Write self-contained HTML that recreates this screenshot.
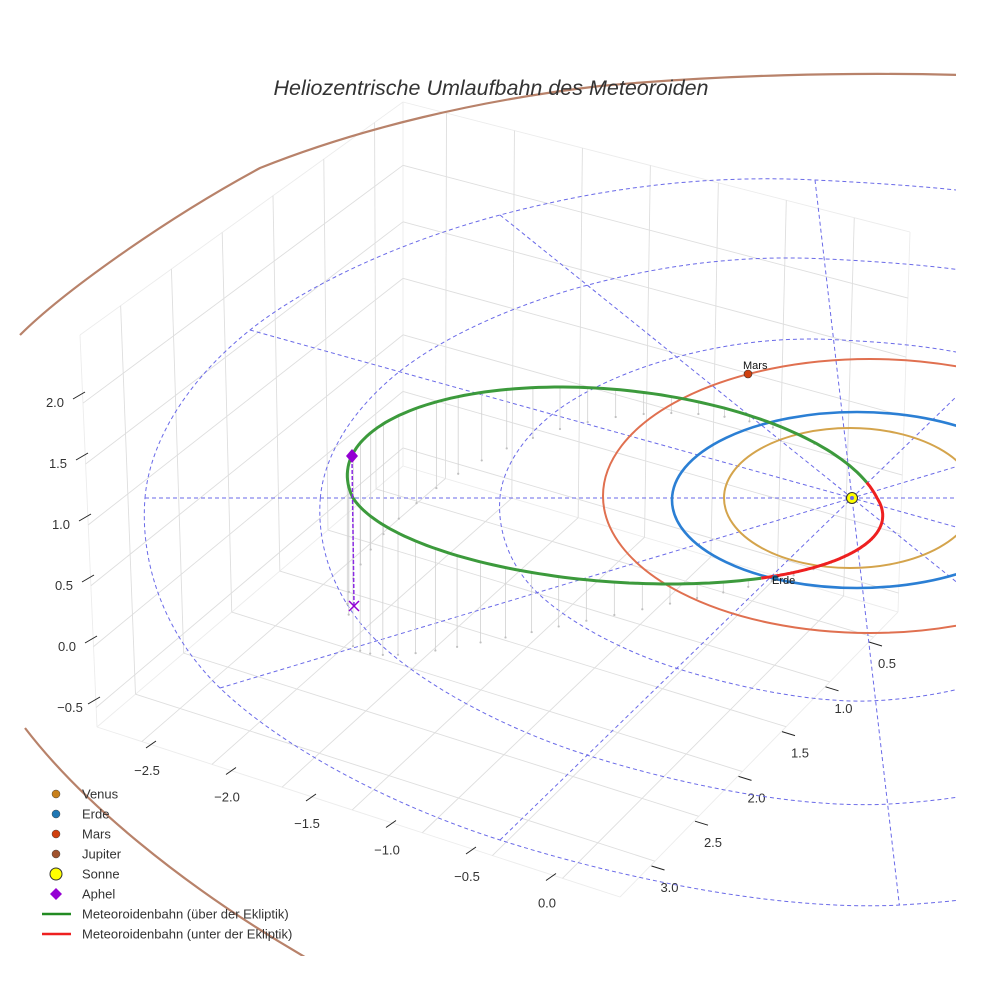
<!DOCTYPE html>
<html><head><meta charset="utf-8"><style>
html,body{margin:0;padding:0;background:#fff;}
svg{display:block;font-family:"Liberation Sans",sans-serif;}
</style></head><body>
<svg id="chart" width="984" height="984" viewBox="0 0 984 984" xmlns="http://www.w3.org/2000/svg">
<defs><clipPath id="clip"><rect x="0" y="0" width="956" height="956"/></clipPath></defs>
<rect width="984" height="984" fill="#fff"/>
<g id="grid"></g>
<g id="plot" clip-path="url(#clip)"></g>
<text x="491" y="95" text-anchor="middle" font-size="21.5" font-style="italic" fill="#333">Heliozentrische Umlaufbahn des Meteoroiden</text>
<g id="legend"></g>
</svg>
<script>
// ---- data ----
const xTicks = [-2.5, -2.0, -1.5, -1.0, -0.5, 0.0];
const yTicks = [0.5, 1.0, 1.5, 2.0, 2.5, 3.0];
const zTicks = [-0.5, 0.0, 0.5, 1.0, 1.5, 2.0];
const xRange = [-2.82, 0.91];
const yRange = [0.22, 3.4];
const zRange = [-0.66, 2.56];
const planetNames = ["Venus", "Erde", "Mars", "Jupiter"];
const planetColors = ["#d4a44c", "#2b7fd4", "#e07050", "#b8826a"];
const markerColors = ["#c8801c", "#1f77b4", "#d0400e", "#a0522d"];
const ringScales = [0.498, 0.752, 1.0];

const NS = "http://www.w3.org/2000/svg";
function mk(tag, attrs, parent){const e=document.createElementNS(NS,tag);for(const k in attrs)e.setAttribute(k,attrs[k]);parent.appendChild(e);return e;}
function lerp(p,q,t){return [p[0]+(q[0]-p[0])*t,p[1]+(q[1]-p[1])*t];}
const grid=document.getElementById('grid'), plot=document.getElementById('plot'), legend=document.getElementById('legend');

const A=[97,727],B=[620,897],F=[898,612],G=[403,466],A2=[80,335],G2=[403,102],F2=[910,232];
const tx=x=>(x-xRange[0])/(xRange[1]-xRange[0]);
const sy=y=>(yRange[1]-y)/(yRange[1]-yRange[0]);
const uz=z=>(z-zRange[0])/(zRange[1]-zRange[0]);
function gl(p,q,c,w){const l=mk('line',{x1:p[0],y1:p[1],x2:q[0],y2:q[1],stroke:c||'#dedede','stroke-width':w||0.9},grid);

}
[[A,B],[B,F],[F,G],[G,A],[A,A2],[G,G2],[F,F2],[A2,G2],[G2,F2]].forEach(e=>gl(e[0],e[1],'#ececec'));
xTicks.concat([0.5]).forEach(x=>{const t=tx(x);gl(lerp(A,B,t),lerp(G,F,t));gl(lerp(G,F,t),lerp(G2,F2,t));});
yTicks.forEach(y=>{const s=sy(y);gl(lerp(A,G,s),lerp(B,F,s));gl(lerp(A,G,s),lerp(A2,G2,s));});
zTicks.forEach(z=>{const u=uz(z);gl(lerp(A,A2,u),lerp(G,G2,u));gl(lerp(G,G2,u),lerp(F,F2,u));});
function lab(txt,x,y,name){const t=mk('text',{x:x,y:y,'font-size':13,fill:'#333','text-anchor':'middle'},grid);t.textContent=txt;

}
function tk(x1,y1,x2,y2){const l=mk('line',{x1:x1,y1:y1,x2:x2,y2:y2,stroke:'#222','stroke-width':1},grid);

}
const fmt=v=>(v<0?'\u2212':'')+Math.abs(v).toFixed(1);
xTicks.forEach((x,i)=>{const lx=147+i*80,ly=775+i*26.5;lab(fmt(x),lx,ly,'x-tick-label');tk(lx-1,ly-27,lx+9,ly-34);});
yTicks.forEach((y,i)=>{const lx=887-i*43.5,ly=668+i*44.8;lab(fmt(y),lx,ly,'y-tick-label');tk(lx-18,ly-26,lx-5,ly-22);});
zTicks.forEach((z,i)=>{const ly=712-i*61,lx=70-i*3;lab(fmt(z),lx,ly,'z-tick-label');tk(lx+18,ly-8,lx+30,ly-15);});

const S=[852,498];
const ringPts=[[145,498],[250,330],[500,215],[815,180],[1200,250],[1400,500],[1250,800],[900,905],[500,840],[220,688]];
function closedPath(pts){let d='M'+pts[0][0]+','+pts[0][1];const n=pts.length;
for(let i=0;i<n;i++){const p0=pts[(i-1+n)%n],p1=pts[i],p2=pts[(i+1)%n],p3=pts[(i+2)%n];
d+=' C'+(p1[0]+(p2[0]-p0[0])/6)+','+(p1[1]+(p2[1]-p0[1])/6)+' '+(p2[0]-(p3[0]-p1[0])/6)+','+(p2[1]-(p3[1]-p1[1])/6)+' '+p2[0]+','+p2[1];}return d+'Z';}
ringScales.forEach(k=>{const pts=ringPts.map(p=>[S[0]+(p[0]-S[0])*k,S[1]+(p[1]-S[1])*k]);
const e=mk('path',{d:closedPath(pts),fill:'none',stroke:'#6a6ae8','stroke-width':1,'stroke-dasharray':'4,3'},plot);

});
[[145,498],[250,330],[220,688],[500,840],[500,215],[815,180]].forEach(p=>{const dx=S[0]-p[0],dy=S[1]-p[1];
const k=p[0]===815?1.28:1.8;
const q=[S[0]+dx*k,S[1]+dy*k];
const l=mk('line',{x1:p[0],y1:p[1],x2:q[0],y2:q[1],stroke:'#6a6ae8','stroke-width':1,'stroke-dasharray':'4,3'},plot);

});

function orb(t){const s=Math.sin(t);return [615+262*Math.cos(t)+55*s,498+(s<0?111:86)*s];}
for(let i=0;i<60;i++){const t=i/60*2*Math.PI;const p=orb(t);if(p[0]>872)continue;
const d=150*Math.pow(Math.max(0,(880-p[0])/530),2.2)*(Math.sin(t)<0?0.85:1);
const l=mk('line',{x1:p[0],y1:p[1],x2:p[0],y2:p[1]+d,stroke:'#d0d0d0','stroke-width':0.8},plot);


const c=mk('circle',{cx:p[0],cy:p[1]+d,r:1.1,fill:'#c0c0c0'},plot);

}

const orbitGeom=[[850,498,126,70],[857,500,185,88],[870,496,267,137]];
orbitGeom.forEach((g,i)=>{const e=mk('ellipse',{cx:g[0],cy:g[1],rx:g[2],ry:g[3],fill:'none',stroke:planetColors[i],'stroke-width':i===1?2.6:2},plot);

});
const j1=mk('path',{d:'M20,335 C60,295 160,222 260,168 C360,128 480,100 600,86 C720,75 850,72 960,75',fill:'none',stroke:planetColors[3],'stroke-width':2.2},plot);


const j2=mk('path',{d:'M25,728 C80,800 180,885 310,960',fill:'none',stroke:planetColors[3],'stroke-width':2.2},plot);



function seg(t0,t1,col,name){let d='';const n=160;for(let i=0;i<=n;i++){const p=orb(t0+(t1-t0)*i/n);d+=(i?'L':'M')+p[0].toFixed(1)+','+p[1].toFixed(1);}
const e=mk('path',{d:d,fill:'none',stroke:col,'stroke-width':3},plot);

}
seg(1.2,2*Math.PI-0.14,'#3c9a3c','meteoroid-orbit-above');
seg(-0.14,1.2,'#ee2020','meteoroid-orbit-below');

const ad=mk('line',{x1:352,y1:458,x2:354,y2:606,stroke:'#8a2be2','stroke-width':1.5,'stroke-dasharray':'4,2'},plot);


const ap=mk('path',{d:'M352,449 L358,456 L352,463 L346,456Z',fill:'#9400d3'},plot);


const ax=mk('path',{d:'M349,601 L359,611 M359,601 L349,611',stroke:'#9400d3','stroke-width':1.5},plot);



const mars=mk('circle',{cx:748,cy:374,r:4,fill:'#d0400e',stroke:'#333','stroke-width':0.6},plot);


const ml=mk('text',{x:743,y:369,'font-size':11,fill:'#111'},plot);ml.textContent='Mars';


const erde=mk('circle',{cx:775,cy:578,r:3,fill:'#1f77b4'},plot);


const el=mk('text',{x:772,y:584,'font-size':11,fill:'#111'},plot);el.textContent='Erde';


const sun=mk('circle',{cx:852,cy:498,r:5.5,fill:'#ffff00',stroke:'#333','stroke-width':1},plot);


const sc=mk('circle',{cx:852,cy:498,r:2,fill:'#6a6ae8'},plot);



const legItems=[['Venus','dot',markerColors[0]],['Erde','dot',markerColors[1]],['Mars','dot',markerColors[2]],['Jupiter','dot',markerColors[3]],['Sonne','sun','#ffff00'],['Aphel','diamond','#9400d3'],['Meteoroidenbahn (über der Ekliptik)','line','#228b22'],['Meteoroidenbahn (unter der Ekliptik)','line','#ee2020']];
legItems.forEach((it,i)=>{const y=794+i*20;const g=mk('g',{},legend);


if(it[1]==='dot')mk('circle',{cx:56,cy:y,r:4,fill:it[2],stroke:'#444','stroke-width':0.5},g);
else if(it[1]==='sun')mk('circle',{cx:56,cy:y,r:6,fill:it[2],stroke:'#333','stroke-width':1},g);
else if(it[1]==='diamond')mk('path',{d:`M56,${y-6} L62,${y} L56,${y+6} L50,${y}Z`,fill:it[2]},g);
else mk('line',{x1:42,y1:y,x2:71,y2:y,stroke:it[2],'stroke-width':2.5},g);
const t=mk('text',{x:82,y:y+4.5,'font-size':13,fill:'#333'},g);t.textContent=it[0];});
</script>
</body></html>
